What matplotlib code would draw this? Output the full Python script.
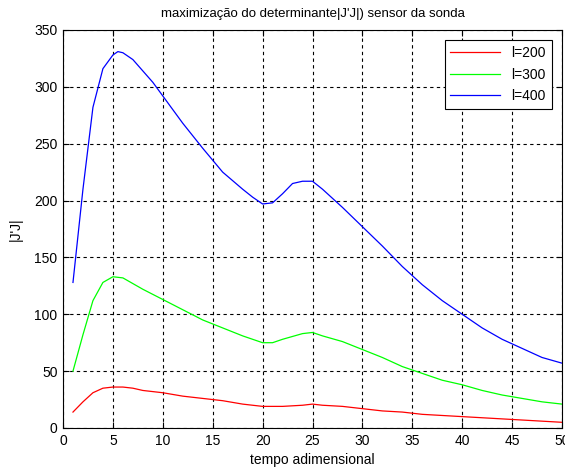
import matplotlib
matplotlib.use('Agg')
import matplotlib.pyplot as plt

plt.rcParams['font.family'] = ['Liberation Sans', 'DejaVu Sans']
plt.rcParams['font.size'] = 10

# data
x_blue = [1, 2, 3, 4, 5, 5.5, 6, 7, 8, 9, 10, 12, 14, 16, 18, 19, 20, 21, 22, 23, 24, 25,
          26, 27, 28, 30, 32, 34, 36, 38, 40, 42, 44, 46, 48, 50]
y_blue = [128, 210, 282, 316, 328, 331, 330, 324, 314, 304, 292, 268, 246, 225, 210, 203,
          197, 198, 206, 215, 217, 217, 210, 202, 194, 177, 160, 142, 126, 112, 100, 88,
          78, 70, 62, 57]

x_green = [1, 2, 3, 4, 5, 6, 7, 8, 10, 12, 14, 16, 18, 20, 21, 22, 24, 25, 26, 28, 30, 32,
           34, 36, 38, 40, 42, 44, 46, 48, 50]
y_green = [50, 82, 112, 128, 133, 132, 127, 122, 113, 104, 95, 88, 81, 75, 75, 78, 83, 84,
           81, 76, 69, 62, 54, 48, 42, 38, 33, 29, 26, 23, 21]

x_red = [1, 2, 3, 4, 5, 6, 7, 8, 10, 12, 14, 16, 18, 20, 22, 24, 25, 26, 28, 30, 32, 34,
         36, 38, 40, 42, 44, 46, 48, 50]
y_red = [14, 23, 31, 35, 36, 36, 35, 33, 31, 28, 26, 24, 21, 19, 19, 20, 21, 20, 19, 17,
         15, 14, 12, 11, 10, 9, 8, 7, 6, 5]

fig = plt.figure(figsize=(5.65, 4.68), dpi=100)
ax = fig.add_axes([0.1115, 0.0855, 0.8832, 0.8504])

ax.plot(x_red, y_red, color='#ff0000', lw=0.9, label='l=200')
ax.plot(x_green, y_green, color='#00ff00', lw=0.9, label='l=300')
ax.plot(x_blue, y_blue, color='#0000ff', lw=0.9, label='l=400')

ax.set_xlim(0, 50)
ax.set_ylim(0, 350)
ax.set_xticks(range(0, 51, 5))
ax.set_yticks(range(0, 351, 50))
ax.grid(True, color='black', linestyle=(0, (3, 3)), linewidth=0.8)
ax.tick_params(direction='in', top=True, right=True, length=4, labelsize=10, pad=4)
for s in ax.spines.values():
    s.set_linewidth(0.8)

ax.set_title("maximização do determinante|J'J|) sensor da sonda", fontsize=9.5, pad=9)
ax.set_xlabel('tempo adimensional', fontsize=10, labelpad=4)
ax.set_ylabel("|J'J|", fontsize=10, labelpad=8)

leg = ax.legend(loc='upper right', fancybox=False, edgecolor='black', framealpha=1,
                handlelength=3.6, fontsize=10, borderaxespad=0.75, labelspacing=0.55)
leg.get_frame().set_linewidth(0.8)

fig.savefig('out.png', dpi=100)
